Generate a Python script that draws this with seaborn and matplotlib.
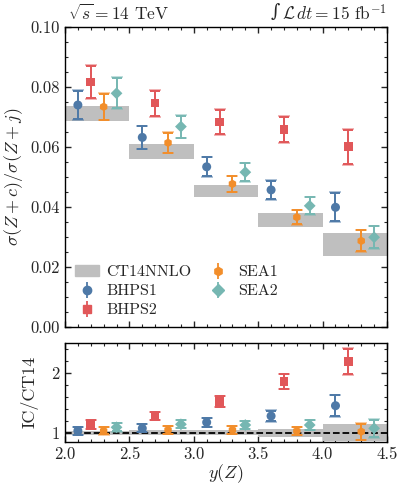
import matplotlib
matplotlib.use("Agg")
import matplotlib.pyplot as plt
import matplotlib.patches as mpatches
from matplotlib.ticker import MultipleLocator, FormatStrFormatter
import numpy as np
import pandas as pd
import seaborn as sns

# ---------------- data ----------------
bin_edges = [2.0, 2.5, 3.0, 3.5, 4.0, 4.5]
ct14_lo = [0.0688, 0.0559, 0.0432, 0.0334, 0.0237]
ct14_hi = [0.0737, 0.0610, 0.0472, 0.0379, 0.0314]
ct14_ratio_lo = [0.966, 0.956, 0.956, 0.936, 0.859]
ct14_ratio_hi = [1.035, 1.043, 1.044, 1.062, 1.138]

x_bhps1 = [2.1, 2.6, 3.1, 3.6, 4.1]
x_bhps2 = [2.2, 2.7, 3.2, 3.7, 4.2]
x_sea1 = [2.3, 2.8, 3.3, 3.8, 4.3]
x_sea2 = [2.4, 2.9, 3.4, 3.9, 4.4]

bhps1 = [0.0740, 0.0632, 0.0534, 0.0457, 0.0399]
bhps1_err = [0.0048, 0.0037, 0.0032, 0.0031, 0.0047]
bhps2 = [0.0816, 0.0746, 0.0684, 0.0659, 0.0601]
bhps2_err = [0.0053, 0.0042, 0.0040, 0.0042, 0.0057]
sea1 = [0.0734, 0.0614, 0.0477, 0.0366, 0.0287]
sea1_err = [0.0043, 0.0033, 0.0026, 0.0024, 0.0035]
sea2 = [0.0779, 0.0668, 0.0516, 0.0404, 0.0299]
sea2_err = [0.0050, 0.0037, 0.0030, 0.0028, 0.0037]

bhps1_r = [1.033, 1.073, 1.173, 1.278, 1.450]
bhps1_r_err = [0.065, 0.065, 0.070, 0.088, 0.170]
bhps2_r = [1.140, 1.278, 1.517, 1.850, 2.190]
bhps2_r_err = [0.075, 0.070, 0.090, 0.120, 0.210]
sea1_r = [1.030, 1.045, 1.045, 1.028, 1.017]
sea1_r_err = [0.060, 0.060, 0.060, 0.070, 0.135]
sea2_r = [1.090, 1.140, 1.128, 1.128, 1.073]
sea2_r_err = [0.070, 0.065, 0.065, 0.080, 0.145]

names = ["BHPS1", "BHPS2", "SEA1", "SEA2"]
colors = {"BHPS1": "#4e79a7", "BHPS2": "#e15759", "SEA1": "#f28e2b", "SEA2": "#76b7b2"}
markers = {"BHPS1": "o", "BHPS2": "s", "SEA1": "h", "SEA2": "D"}
msizes = {"BHPS1": 42, "BHPS2": 38, "SEA1": 38, "SEA2": 36}

top = {"BHPS1": (x_bhps1, bhps1, bhps1_err), "BHPS2": (x_bhps2, bhps2, bhps2_err),
       "SEA1": (x_sea1, sea1, sea1_err), "SEA2": (x_sea2, sea2, sea2_err)}
bot = {"BHPS1": (x_bhps1, bhps1_r, bhps1_r_err), "BHPS2": (x_bhps2, bhps2_r, bhps2_r_err),
       "SEA1": (x_sea1, sea1_r, sea1_r_err), "SEA2": (x_sea2, sea2_r, sea2_r_err)}

# ---------------- style ----------------
sns.set_theme(style="ticks")
plt.rcParams["font.family"] = ["serif"]
plt.rcParams["font.serif"] = ["cmr10", "DejaVu Serif"]
plt.rcParams["mathtext.fontset"] = "cm"
plt.rcParams["axes.formatter.use_mathtext"] = True
plt.rcParams["axes.edgecolor"] = "black"
plt.rcParams["axes.linewidth"] = 1.0

fig = plt.figure(figsize=(4.0, 4.84), dpi=100)
ax1 = fig.add_axes([0.1625, 0.3244, 0.805, 0.6198])
ax2 = fig.add_axes([0.1625, 0.0874, 0.805, 0.2046])

band_color = "#bfbfbf"
widths = np.diff(bin_edges)
ax1.bar(bin_edges[:-1], np.array(ct14_hi) - np.array(ct14_lo), bottom=ct14_lo,
        width=widths, align="edge", color=band_color, edgecolor="none", zorder=1)
ax2.bar(bin_edges[:-1], np.array(ct14_ratio_hi) - np.array(ct14_ratio_lo), bottom=ct14_ratio_lo,
        width=widths, align="edge", color=band_color, edgecolor="none", zorder=1)
ax2.axhline(1.0, color="black", ls="--", lw=1.3, zorder=2)

for ax, dd in ((ax1, top), (ax2, bot)):
    rows = []
    for n in names:
        xs, ys, es = dd[n]
        es = np.array(es)
        ax.errorbar(xs, ys, yerr=es * 1.06, fmt="none", ecolor=colors[n], alpha=0.45,
                    elinewidth=1.4, capsize=4, capthick=1.4, zorder=3)
        ax.errorbar(xs, ys, yerr=es, fmt="none", ecolor=colors[n],
                    elinewidth=1.4, capsize=3.5, capthick=1.4, zorder=4)
        for x, y in zip(xs, ys):
            rows.append({"x": x, "y": y, "s": n})
    df = pd.DataFrame(rows)
    for n in names:
        sub = df[df["s"] == n]
        sns.scatterplot(data=sub, x="x", y="y", ax=ax, color=colors[n], marker=markers[n],
                        s=msizes[n], edgecolor="none", zorder=5, legend=False)

# legend
leg_handles = [mpatches.Patch(color=band_color, label="CT14NNLO")]
for n in names:
    hh = ax1.errorbar([], [], yerr=[], fmt=markers[n], color=colors[n], ms=6,
                      elinewidth=1.3, capsize=3, label=n)
    leg_handles.append(hh)
ax1.legend(handles=leg_handles, labels=["CT14NNLO", "BHPS1", "BHPS2", "SEA1", "SEA2"],
           loc="lower left", ncol=2, frameon=False, fontsize=11.5,
           handlelength=1.5, handletextpad=0.5, columnspacing=0.9, labelspacing=0.3,
           borderaxespad=0.2, bbox_to_anchor=(0.0, 0.0))

# axes settings
for ax in (ax1, ax2):
    ax.set_xlim(2.0, 4.5)
    ax.xaxis.set_major_locator(MultipleLocator(0.5))
    ax.xaxis.set_minor_locator(MultipleLocator(0.1))
    ax.tick_params(which="both", direction="in", top=True, right=True, labelsize=12)
    ax.tick_params(which="major", length=4, width=1)
    ax.tick_params(which="minor", length=2.2, width=0.8)
    for sp in ax.spines.values():
        sp.set_color("black")

ax1.set_ylim(0.0, 0.10)
ax1.yaxis.set_major_locator(MultipleLocator(0.02))
ax1.yaxis.set_minor_locator(MultipleLocator(0.005))
ax1.yaxis.set_major_formatter(FormatStrFormatter("%.2f"))
ax1.tick_params(labelbottom=False)
ax1.set_xlabel("")
ax1.set_ylabel(r"$\sigma(Z+c)/\sigma(Z+j)$", fontsize=13, labelpad=4)
ax1.text(0.01, 1.022, r"$\sqrt{s}=14$ TeV", transform=ax1.transAxes,
         ha="left", va="baseline", fontsize=12.5)
main_t = ax1.text(1.0, 1.022, r"$\mathcal{L}\,dt=15$ fb$^{-1}$", transform=ax1.transAxes,
                  ha="right", va="baseline", fontsize=12.5)
ax1.annotate("\u222b", xy=(0, 0.1), xycoords=main_t, xytext=(-1.5, 0),
             textcoords="offset points", ha="right", va="bottom",
             fontsize=13, family="DejaVu Serif")

ax2.set_ylim(0.85, 2.5)
ax2.yaxis.set_major_locator(MultipleLocator(1))
ax2.yaxis.set_minor_locator(MultipleLocator(0.2))
ax2.set_xlabel(r"$y(Z)$", fontsize=13, labelpad=0)
ax2.set_ylabel("IC/CT14", fontsize=13, labelpad=9)
ax2.xaxis.set_major_formatter(FormatStrFormatter("%.1f"))

fig.savefig("out.png", dpi=100)
